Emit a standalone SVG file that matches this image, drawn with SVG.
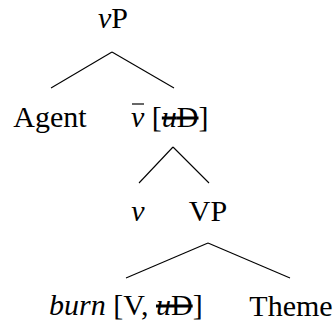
<svg xmlns="http://www.w3.org/2000/svg" width="335" height="322" viewBox="0 0 335 322">
<style>
text{font-family:"Liberation Serif","Times New Roman",serif;font-size:30px;fill:#000}
.i{font-style:italic}
.c{text-anchor:middle}
.s{text-decoration:line-through}
#edges line{stroke:#000;stroke-width:1.1}
</style>
<rect width="335" height="322" fill="#fff"/>
<g id="edges">
<line x1="112" y1="52" x2="51" y2="88"/>
<line x1="112" y1="52" x2="174" y2="88"/>
<line x1="173" y1="147" x2="139" y2="183"/>
<line x1="173" y1="147" x2="209" y2="183"/>
<line x1="208" y1="243" x2="126" y2="278"/>
<line x1="208" y1="243" x2="290" y2="278"/>
</g>
<g id="vP"><text class="c" x="113" y="28"><tspan class="i">v</tspan>P</text></g>
<g id="Agent"><text class="c" x="50" y="127">Agent</text></g>
<g id="vbar"><text x="131" y="127"><tspan class="i">v</tspan> [<tspan class="s"><tspan class="i">u</tspan>D</tspan>]</text><line x1="132" y1="104" x2="144" y2="104" stroke="#000" stroke-width="1.2"/></g>
<g id="v"><text class="c i" x="138" y="221">v</text></g>
<g id="VP"><text class="c" x="208" y="221">VP</text></g>
<g id="burn"><text x="49" y="315" font-size="29"><tspan class="i">burn</tspan> [V, <tspan class="s"><tspan class="i">u</tspan>D</tspan>]</text></g>
<g id="Theme"><text class="c" x="291" y="316">Theme</text></g>
</svg>
